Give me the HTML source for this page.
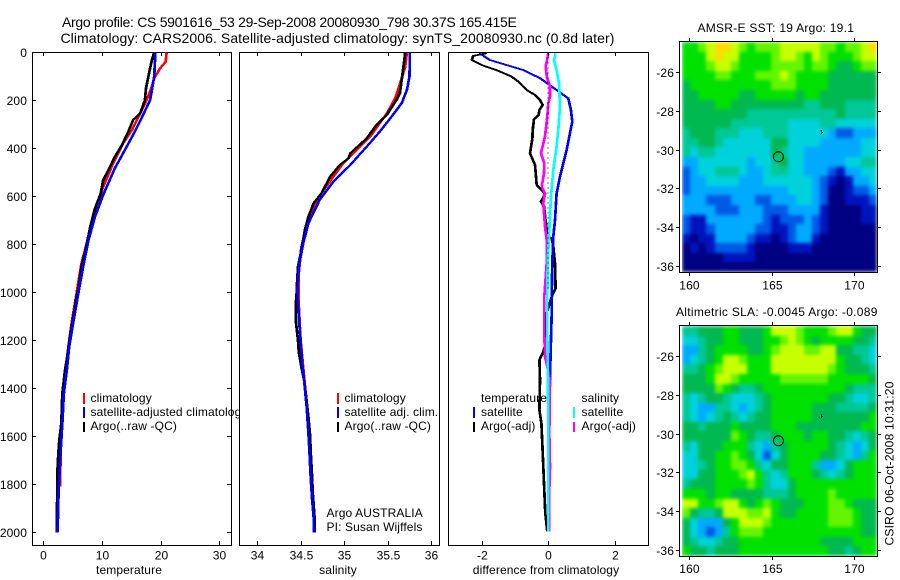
<!DOCTYPE html>
<html>
<head>
<meta charset="utf-8">
<title>Argo profile</title>
<style>
html,body{margin:0;padding:0;background:#fff;}
svg{display:block;}
text{font-family:"Liberation Sans",sans-serif;font-size:12px;fill:#000;letter-spacing:.12px;}
.title{font-size:14px;}
.frame{fill:#fff;stroke:#000;stroke-width:1;shape-rendering:crispEdges;}
.mapframe{fill:none;stroke:#000;stroke-width:1;shape-rendering:crispEdges;}
.key{stroke-width:2;shape-rendering:crispEdges;}
</style>
</head>
<body>
<svg id="chart" width="900" height="580" viewBox="0 0 900 580" xmlns="http://www.w3.org/2000/svg">
<defs>
<filter id="soften" x="0" y="0" width="100%" height="100%" color-interpolation-filters="sRGB"><feGaussianBlur stdDeviation="1.8" edgeMode="duplicate"/></filter>
</defs>
<rect width="900" height="580" fill="#fff"/>
<text class="title" x="62" y="27" textLength="455">Argo profile: CS 5901616_53 29-Sep-2008 20080930_798 30.37S 165.415E</text>
<text class="title" x="60.5" y="43" textLength="554">Climatology: CARS2006. Satellite-adjusted climatology: synTS_20080930.nc (0.8d later)</text>

<g id="p1">
<rect class="frame" x="32.5" y="52.5" width="199" height="493"/>
<g id="p1marks"></g>
<g id="p1ticks"></g>
<text x="129" y="574" text-anchor="middle">temperature</text>
<line class="key" x1="84" x2="84" y1="393" y2="404" stroke="#f00"/>
<line class="key" x1="84" x2="84" y1="407" y2="418" stroke="#00f"/>
<line class="key" x1="84" x2="84" y1="422" y2="432" stroke="#000"/>
<text x="90.5" y="402">climatology</text>
<text x="90.5" y="416">satellite-adjusted climatology</text>
<text x="90.5" y="430">Argo(..raw -QC)</text>
</g>

<g id="p2">
<rect class="frame" x="239.5" y="52.5" width="200" height="493"/>
<g id="p2marks"></g>
<g id="p2ticks"></g>
<text x="338" y="574" text-anchor="middle">salinity</text>
<line class="key" x1="338" x2="338" y1="393" y2="404" stroke="#f00"/>
<line class="key" x1="338" x2="338" y1="407" y2="418" stroke="#00f"/>
<line class="key" x1="338" x2="338" y1="422" y2="432" stroke="#000"/>
<text x="344.5" y="402">climatology</text>
<text x="344.5" y="416">satellite adj. clim.</text>
<text x="344.5" y="430">Argo(..raw -QC)</text>
<text x="326.5" y="517">Argo AUSTRALIA</text>
<text x="326.5" y="531">PI: Susan Wijffels</text>
</g>

<g id="p3">
<rect class="frame" x="448.5" y="52.5" width="200" height="493"/>
<g id="p3marks"></g>
<g id="p3ticks"></g>
<text x="546" y="574" text-anchor="middle">difference from climatology</text>
<line class="key" x1="474" x2="474" y1="407" y2="418" stroke="#00f"/>
<line class="key" x1="474" x2="474" y1="422" y2="432" stroke="#000"/>
<line class="key" x1="574" x2="574" y1="407" y2="418" stroke="#0ff"/>
<line class="key" x1="574" x2="574" y1="422" y2="432" stroke="#f0f"/>
<text x="481" y="402">temperature</text>
<text x="481" y="416">satellite</text>
<text x="481" y="430">Argo(-adj)</text>
<text x="581.5" y="402">salinity</text>
<text x="581.5" y="416">satellite</text>
<text x="581.5" y="430">Argo(-adj)</text>
</g>

<g id="m1">
<text x="697.5" y="32" textLength="156.5">AMSR-E SST: 19 Argo: 19.1</text>
<g id="m1cells" filter="url(#soften)"></g>
<rect class="mapframe" x="679.5" y="41.5" width="198" height="231"/>
<g id="m1ticks"></g>
<g id="m1marker"></g>
</g>

<g id="m2">
<text x="676" y="316" textLength="201.5">Altimetric SLA: -0.0045 Argo: -0.089</text>
<g id="m2cells" filter="url(#soften)"></g>
<rect class="mapframe" x="679.5" y="325.5" width="198" height="231"/>
<g id="m2ticks"></g>
<g id="m2marker"></g>
</g>

<text transform="translate(893.5,545.5) rotate(-90)" textLength="164">CSIRO 06-Oct-2008 10:31:20</text>

<script>
// ---------- depth axis ticks ----------
const depthTicks = [0,200,400,600,800,1000,1200,1400,1600,1800,2000];
const tempTicks = [0,10,20,30];
const salTicks = [34,34.5,35,35.5,36];
const salTickLabels = ['34','34.5','35','35.5','36'];
const diffTicks = [-2,0,2];
const lonTicks = [160,165,170];
const latTicks = [-26,-28,-30,-32,-34,-36];
const argoLon = 165.415;
const argoLat = -30.37;
const sideLon = 168;
const sideLat = -29.1;

// ---------- temperature series ----------
const tempArgoDepth = [0,32,88,150,199,254,282,330,386,435,490,532,587,650,726,810,893,985,1000,1090,1166,1256,1325,1422,1547,1616,1672,1755,1852,1935,2000];
const tempArgo = [18.9,18.5,18.0,17.5,17.3,16.5,15.3,14.5,13.4,12.2,11.1,10.2,9.8,8.8,8.0,7.3,6.5,6.0,5.8,5.2,4.66,4.15,3.7,3.24,3.07,2.73,2.56,2.39,2.39,2.27,2.27];
const tempSatDepth = [0,101,157,199,261,330,407,483,594,685,782,893,985,1000,1062,1139,1229,1325,1422,1519,1616,1713,1824,1935,2000];
const tempSat = [19.1,18.9,18.5,18.2,17.0,15.6,13.9,12.2,10.2,8.8,7.7,6.8,6.1,6.0,5.55,5.0,4.4,4.0,3.5,3.3,3.07,2.84,2.6,2.5,2.4];
const tempClimDepth = [0,39,67,108,143,199,254,324,379,462,560,643,768,879,985,1000,1035,1132,1229,1339,1436,1575,1686,1810];
const tempClim = [21.0,20.85,19.9,18.9,18.5,17.6,16.5,15.1,13.6,11.9,10.2,9.1,7.7,6.5,5.8,5.7,5.45,4.8,4.26,3.7,3.3,3.07,2.95,2.84];

// ---------- salinity series ----------
const salArgoDepth = [0,32,115,171,199,261,303,358,421,442,469,518,587,629,685,740,824,893,985,1000,1048,1118,1201,1249,1312,1367,1422,1519,1602,1658,1755,1838,1935,2000];
const salArgo = [35.70,35.69,35.66,35.64,35.60,35.49,35.37,35.26,35.07,35.05,34.95,34.84,34.74,34.65,34.59,34.55,34.51,34.47,34.455,34.455,34.445,34.445,34.47,34.48,34.51,34.54,34.56,34.59,34.61,34.615,34.63,34.64,34.66,34.66];
const salSatDepth = [0,101,157,212,268,330,393,469,539,615,712,796,893,985,1000,1104,1201,1298,1367,1478,1644,1755,1852,1935,2000];
const salSat = [35.755,35.75,35.72,35.66,35.545,35.41,35.26,35.07,34.875,34.72,34.59,34.53,34.48,34.465,34.465,34.48,34.50,34.52,34.54,34.57,34.60,34.615,34.63,34.65,34.655];
const salClimDepth = [0,60,143,192,254,351,407,462,546,615,699,810,921,985,1000,1055,1200,1500,1800];
const salClim = [35.72,35.70,35.63,35.585,35.49,35.30,35.14,34.99,34.82,34.685,34.59,34.51,34.48,34.48,34.48,34.48,34.50,34.58,34.62];

// ---------- difference series ----------
const diffTempArgoDepth = [4,15,32,53,74,101,122,157,178,199,219,240,261,279,324,358,421,469,518,553,590,622,643,740,768,775,810,879,983,1018,1088,1212,1247,1282,1365,1490,1546,1629,1726,1824,1921,1997];
const diffTempArgo = [-1.85,-2.25,-2.29,-2.0,-1.55,-1.1,-0.89,-0.64,-0.39,-0.24,-0.16,-0.26,-0.28,-0.42,-0.46,-0.47,-0.54,-0.39,-0.36,-0.34,-0.09,-0.21,-0.12,-0.04,0.01,0.11,0.16,0.21,0.23,0.11,-0.04,-0.07,-0.14,-0.26,-0.24,-0.26,-0.2,-0.17,-0.14,-0.11,-0.08,-0.02];
const diffTempSatDepth = [4,32,53,74,108,157,192,240,289,338,407,463,518,588,699,768,879,1018,1088,1240,1351,1588,1997];
const diffTempSat = [-2.05,-1.75,-1.25,-0.74,-0.24,0.26,0.61,0.69,0.73,0.66,0.56,0.46,0.36,0.26,0.21,0.16,0.13,0.11,0.11,0.08,0.06,0.02,0.01];
const diffSalSatDepth = [4,32,74,129,226,324,393,490,601,740,879,1018,1171,1379,1588,1997];
const diffSalSat = [0.23,0.18,0.26,0.33,0.36,0.31,0.26,0.16,0.09,0.04,-0.01,-0.02,-0.02,0,0.01,0.01];
const diffSalArgoDepth = [4,60,101,143,185,212,268,351,421,463,504,560,588,629,726,782,879,1018,1171,1268,1310,1365,1588,1726,1865,1997];
const diffSalArgo = [0.01,-0.07,-0.04,0.06,0.06,0.01,-0.02,-0.09,-0.21,-0.11,-0.12,-0.19,-0.09,-0.14,-0.09,-0.04,-0.04,-0.11,-0.11,-0.09,-0.02,0.06,0.04,0.06,0.03,0.04];
const zeroLineDepth = [0,1000];
const zeroLineValue = [0,0];

// ---------- map grids (colour level, 0 = lowest, 10 = highest) ----------
const sstGrid = [
[7,7,8,9,10,10,9,8,7,8,8,8,9,9,9,9,9,8,8,7,8,8,9,10],
[7,7,7,9,10,9,9,7,7,7,7,8,9,9,8,7,9,8,7,7,7,8,9,9],
[7,7,7,8,9,9,8,7,7,7,7,8,8,8,8,7,8,8,7,6,6,7,8,8],
[7,7,7,7,8,8,7,7,7,8,8,8,9,8,7,7,7,7,6,6,6,6,6,6],
[6,7,7,7,7,7,7,7,7,7,7,8,8,8,7,7,7,7,6,6,6,6,6,6],
[6,6,7,7,7,7,7,6,6,7,7,7,7,7,6,7,7,6,6,6,6,6,6,6],
[6,6,6,6,7,7,6,6,6,6,6,6,6,6,6,5,5,6,6,6,5,5,5,5],
[6,6,6,6,6,6,6,6,5,5,5,5,5,5,5,5,5,5,5,6,5,5,5,5],
[6,6,6,6,6,6,5,5,5,5,5,5,5,4,4,4,4,5,5,4,4,4,4,4],
[5,6,6,6,5,5,5,4,4,4,5,5,5,4,4,4,4,4,3,2,2,3,3,3],
[5,5,6,6,5,4,4,4,4,4,4,6,6,4,4,4,4,3,3,3,3,3,4,4],
[5,4,5,5,4,4,4,4,4,4,4,6,5,4,4,3,3,3,3,3,3,3,4,4],
[3,3,4,4,4,4,4,4,3,4,4,5,6,4,4,3,3,3,3,3,4,4,5,5],
[2,3,4,4,5,5,5,4,3,3,4,5,5,4,4,3,3,3,2,1,3,3,4,4],
[2,3,3,4,4,4,4,3,3,3,4,4,4,4,4,4,3,2,1,0,1,3,3,4],
[2,3,3,3,3,3,3,3,3,3,3,3,3,4,4,4,3,2,0,0,1,2,2,3],
[3,3,3,2,2,2,3,3,3,2,2,3,3,3,4,4,3,2,0,0,1,1,1,2],
[3,3,3,3,2,2,2,3,3,3,2,2,2,3,3,3,3,1,0,0,0,0,1,1],
[2,1,1,3,3,3,3,3,3,3,2,1,2,2,2,3,2,1,0,0,0,0,1,1],
[2,1,1,2,3,3,3,3,3,2,2,1,1,2,3,3,2,1,0,0,0,0,0,0],
[1,0,1,1,3,3,3,3,2,1,1,0,1,2,3,3,1,0,0,0,0,0,0,0],
[0,1,0,1,2,2,2,2,1,0,0,0,0,1,1,1,0,0,0,0,0,0,0,0],
[0,0,0,0,0,1,1,1,1,0,0,0,0,0,0,0,0,0,0,0,0,0,0,0],
[0,0,0,0,0,0,0,0,0,0,0,0,0,0,0,0,0,0,0,0,0,0,0,0]
];
const slaGrid = [
[5,5,6,6,6,7,7,6,6,6,7,9,9,9,8,7,7,7,8,9,9,7,6,6],
[4,4,5,6,6,7,7,6,6,6,7,7,8,9,8,7,6,7,7,7,7,6,6,5],
[3,3,5,6,7,7,7,7,6,6,7,8,9,9,9,8,8,9,9,6,6,5,5,4],
[3,4,5,6,7,9,9,8,7,7,7,9,9,9,9,9,9,9,9,7,6,6,5,4],
[5,5,6,7,8,9,9,9,7,7,7,9,9,9,9,9,9,9,8,7,6,6,6,5],
[6,6,6,7,9,9,8,7,7,7,7,7,8,8,8,8,8,8,7,7,7,7,7,6],
[6,6,6,6,8,7,6,5,5,6,7,7,7,7,7,7,7,7,7,7,6,5,5,5],
[5,4,5,6,6,5,4,4,4,5,6,7,7,7,7,7,7,7,6,6,5,4,4,5],
[5,4,3,3,5,5,4,3,4,5,6,7,7,7,7,7,6,6,6,5,5,5,5,6],
[5,4,3,4,5,6,5,4,5,6,6,7,7,7,7,7,6,6,6,6,6,6,6,7],
[6,6,5,6,6,6,7,6,6,6,6,7,7,7,6,6,6,6,6,6,6,6,7,7],
[6,6,6,6,6,6,8,7,6,5,5,6,7,7,7,6,7,7,6,6,5,4,5,6],
[5,4,6,6,6,7,7,7,5,4,3,5,6,7,7,7,7,7,6,5,4,3,4,6],
[4,4,6,6,7,7,8,7,6,4,2,4,6,7,7,7,7,6,6,5,4,3,5,7],
[4,4,5,6,7,7,8,8,7,5,4,6,6,7,7,7,5,3,3,4,6,7,7,7],
[4,4,6,6,7,7,7,8,9,7,5,4,5,7,7,7,6,5,4,5,6,7,7,7],
[5,6,6,6,7,7,7,7,8,7,5,4,4,6,7,7,7,7,7,7,7,7,7,7],
[7,7,7,6,7,7,6,6,6,6,5,5,5,6,7,7,7,7,8,7,7,7,7,7],
[9,9,7,7,8,9,9,7,6,7,8,7,6,6,6,7,7,7,8,8,7,6,6,6],
[8,6,5,5,6,9,9,9,8,8,9,7,6,6,7,7,7,7,8,8,8,7,6,6],
[6,4,3,3,3,6,7,9,9,9,8,7,7,7,7,7,7,7,8,8,8,7,6,6],
[6,4,3,2,3,5,7,8,8,8,7,7,7,7,7,7,7,7,7,7,7,7,6,6],
[6,5,4,4,5,6,6,7,7,7,7,7,7,7,7,7,7,6,6,6,6,7,7,7],
[7,6,6,5,6,6,6,7,7,7,7,7,7,7,7,7,7,7,6,6,5,6,7,7]
];

const NS = 'http://www.w3.org/2000/svg';
const depthY = d => 52.3 + 0.24 * d;
const tempX = t => 43.3 + 5.87 * t;
const salX = s => 257 + 87.15 * (s - 34);
const diffX = v => 548 + 33.25 * v;
const lonX = l => 688.7 + 16.57 * (l - 160);
const latY1 = l => 72.3 + 19.33 * (-26 - l);
const latY2 = l => 356.3 + 19.33 * (-26 - l);

function el(tag, parent, attrs) {
  const e = document.createElementNS(NS, tag);
  for (const k in attrs) e.setAttribute(k, attrs[k]);
  parent.appendChild(e);
  return e;
}
// Profiles use a horizontally wide pen: thick where vertical, thin where sloped.
function drawLine(parent, name, xs, depths, xf, color, width) {
  const sub = off => 'M' + xs.map((v, i) => (xf(v) + off).toFixed(1) + ' ' + depthY(depths[i]).toFixed(1)).join('L');
  const p = el('path', parent, {d: sub(-0.6) + sub(0.6), fill: 'none', stroke: color, 'stroke-width': width, 'shape-rendering': 'crispEdges'});
  
  
}
function drawDotted(parent, name, xs, depths, xf) {
  const pts = xs.map((v, i) => xf(v).toFixed(1) + ',' + depthY(depths[i]).toFixed(1)).join(' ');
  const p = el('polyline', parent, {points: pts, fill: 'none', stroke: '#000', 'stroke-width': 1, 'stroke-dasharray': '1 4', 'shape-rendering': 'crispEdges'});
  
  
}
function tickLine(parent, x1, y1, x2, y2) {
  const t = el('line', parent, {x1: x1, y1: y1, x2: x2, y2: y2, stroke: '#000', 'stroke-width': 1, 'shape-rendering': 'crispEdges'});
  
  
}
function tickText(parent, x, y, anchor, str) {
  const t = el('text', parent, {x: x, y: y, 'text-anchor': anchor});
  t.textContent = str;
  
  
}

const P1 = document.getElementById('p1marks');
drawLine(P1, 'temperature-climatology-line', tempClim, tempClimDepth, tempX, '#f00', 1.5);
drawLine(P1, 'temperature-argo-line', tempArgo, tempArgoDepth, tempX, '#000', 1.5);
drawLine(P1, 'temperature-satellite-line', tempSat, tempSatDepth, tempX, '#00f', 1.5);

const P2 = document.getElementById('p2marks');
drawLine(P2, 'salinity-climatology-line', salClim, salClimDepth, salX, '#f00', 1.5);
drawLine(P2, 'salinity-argo-line', salArgo, salArgoDepth, salX, '#000', 1.5);
drawLine(P2, 'salinity-satellite-line', salSat, salSatDepth, salX, '#00f', 1.5);

const P3 = document.getElementById('p3marks');
drawLine(P3, 'temperature-argo-difference-line', diffTempArgo, diffTempArgoDepth, diffX, '#000', 1.5);
drawLine(P3, 'temperature-satellite-difference-line', diffTempSat, diffTempSatDepth, diffX, '#00f', 1.5);
drawLine(P3, 'salinity-argo-difference-line', diffSalArgo, diffSalArgoDepth, diffX, '#f0f', 1.5);
drawLine(P3, 'salinity-satellite-difference-line', diffSalSat, diffSalSatDepth, diffX, '#0ff', 1.5);
drawDotted(P3, 'zero-difference-line', zeroLineValue, zeroLineDepth, diffX);

// panel ticks
const T1 = document.getElementById('p1ticks');
depthTicks.forEach(d => {
  const y = Math.round(depthY(d));
  tickLine(T1, 32, y + 0.5, 36, y + 0.5);
  tickLine(T1, 227, y + 0.5, 231, y + 0.5);
  tickText(T1, 27, y + 5, 'end', String(d));
});
tempTicks.forEach(t => {
  const x = Math.round(tempX(t)) + 0.5;
  tickLine(T1, x, 52, x, 56);
  tickLine(T1, x, 541, x, 545);
  tickText(T1, x, 559.5, 'middle', String(t));
});
const T2 = document.getElementById('p2ticks');
salTicks.forEach((s, i) => {
  const x = Math.round(salX(s)) + 0.5;
  tickLine(T2, x, 52, x, 56);
  tickLine(T2, x, 541, x, 545);
  tickText(T2, x, 559.5, 'middle', salTickLabels[i]);
});
const T3 = document.getElementById('p3ticks');
diffTicks.forEach(v => {
  const x = Math.round(diffX(v)) + 0.5;
  tickLine(T3, x, 52, x, 56);
  tickLine(T3, x, 541, x, 545);
  tickText(T3, x, 559.5, 'middle', String(v));
});

// colour ramp for the maps
const rampStops = ['#000082','#0014be','#005ae6','#00aaff','#00d2dc','#00c896','#00b950','#00e100','#64f500','#c8ff00','#ffdc00'];
function levelColor(v) {
  const i = Math.max(0, Math.min(rampStops.length - 1, Math.round(v)));
  return rampStops[i];
}
function drawGrid(parent, grid, left, top, right, bottom) {
  const rows = grid.length, cols = grid[0].length;
  const w = (right - left) / cols, h = (bottom - top) / rows;
  grid.forEach((row, r) => row.forEach((v, c) => {
    const x0 = Math.round(left + c * w), x1 = Math.round(left + (c + 1) * w);
    const y0 = Math.round(top + r * h), y1 = Math.round(top + (r + 1) * h);
    const cell = el('rect', parent, {x: x0, y: y0, width: x1 - x0, height: y1 - y0, fill: levelColor(v), 'shape-rendering': 'crispEdges'});
    
    
  }));
}
drawGrid(document.getElementById('m1cells'), sstGrid, 682, 42, 877, 272);
drawGrid(document.getElementById('m2cells'), slaGrid, 682, 326, 877, 556);

function drawMapAxes(id, latY, top, bottom, labelBase) {
  const g = document.getElementById(id);
  lonTicks.forEach(l => {
    const x = Math.round(lonX(l)) + 0.5;
    tickLine(g, x, top - 3, x, top);
    tickLine(g, x, bottom, x, bottom + 3);
    tickText(g, x, labelBase, 'middle', String(l));
  });
  latTicks.forEach(l => {
    const y = Math.round(latY(l)) + 0.5;
    tickLine(g, 676, y, 679, y);
    tickLine(g, 878, y, 881, y);
    tickText(g, 674, y + 4.5, 'end', String(l));
  });
}
drawMapAxes('m1ticks', latY1, 41, 273, 289.5);
drawMapAxes('m2ticks', latY2, 325, 557, 573);

function drawMarkers(id, latY) {
  const g = document.getElementById(id);
  const c = el('circle', g, {cx: lonX(argoLon), cy: latY(argoLat), r: 5, fill: 'none', stroke: '#000', 'stroke-width': 1});
  
  
  const x = Math.round(lonX(sideLon));
  const y = Math.round(latY(sideLat));
  const s = el('path', g, {d: 'M' + (x + 0.5) + ' ' + (y - 2) + 'V' + (y + 2) + 'M' + (x + 0.5) + ' ' + (y + 0.5) + 'H' + (x + 2), stroke: '#000', 'stroke-width': 1, fill: 'none', 'shape-rendering': 'crispEdges'});
  
  
}
drawMarkers('m1marker', latY1);
drawMarkers('m2marker', latY2);
</script>
</svg>
</body>
</html>
